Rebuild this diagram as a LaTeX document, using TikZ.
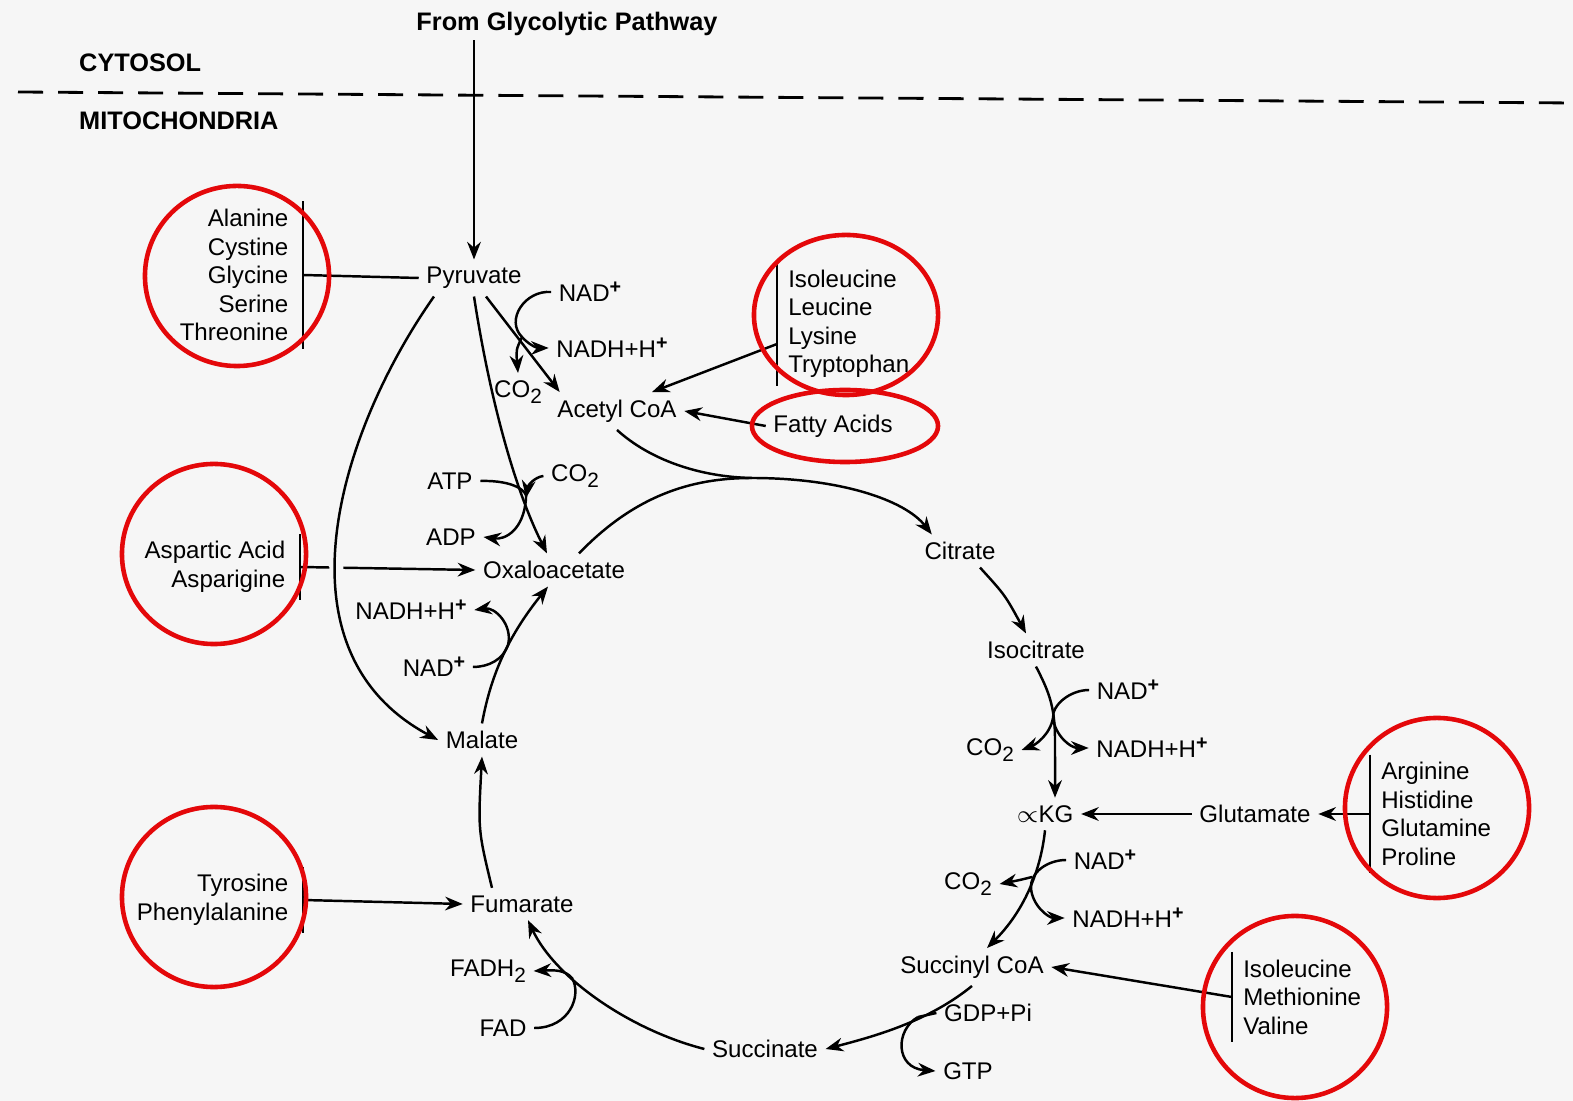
\documentclass[tikz,border=0pt]{standalone}
\usepackage{fontspec}
\setmainfont{Liberation Sans}
\usetikzlibrary{arrows.meta}
\definecolor{ringred}{RGB}{228,8,10}
\definecolor{paper}{RGB}{246,246,246}
\newcommand{\plussup}{\raisebox{0.6ex}{\fontsize{5.6}{6}\selectfont\bfseries +}}
\newcommand{\twosub}{\raisebox{-0.45ex}{\fontsize{5.9}{6}\selectfont 2}}

\begin{document}
\begin{tikzpicture}[
        x=0.01cm, y=-0.01cm,
        every node/.style={font=\fontsize{6.85}{8.1}\selectfont},
        met/.style={inner sep=2pt},
        zone/.style={font=\fontsize{7.2}{8}\selectfont\bfseries, inner sep=1pt},
        listR/.style={align=right, inner xsep=4pt, inner ysep=2pt},
        listL/.style={align=left, inner xsep=3pt, inner ysep=2pt},
        bar/.style={line width=0.7pt},
        link/.style={line width=0.7pt},
        arr/.style={-{Stealth[length=5pt, width=3.9pt]}, line width=0.7pt},
        ring/.style={draw=ringred, line width=1.3pt}
    ]
        \useasboundingbox (0,0) rectangle (1573,1101);
        \fill[paper] (0,0) rectangle (1573,1101);

        % compartments
        \node[zone] (glyc) at (567,24) {From Glycolytic Pathway};
        \node[zone, anchor=west] (cyto) at (75,63) {CYTOSOL};
        \node[zone, anchor=west] (mito) at (75,121) {MITOCHONDRIA};
        \draw[line width=0.8pt, dash pattern=on 0.25cm off 0.15cm] (18,92) -- (1573,103);

        % metabolites
        \node[met] (pyr) at (474,278) {Pyruvate};
        \node[met] (nad1) at (590,292) {NAD\plussup};
        \node[met] (nadh1) at (612,348) {NADH+H\plussup};
        \node[met] (co2a) at (518,392) {CO\twosub};
        \node[met] (acoa) at (617,411) {Acetyl CoA};
        \node[met] (fa) at (833,426) {Fatty Acids};
        \node[met] (atp) at (450,481) {ATP};
        \node[met] (co2b) at (575,476) {CO\twosub};
        \node[met] (adp) at (451,537) {ADP};
        \node[met] (oxa) at (554,570) {Oxaloacetate};
        \node[met] (nadh2) at (411,610) {NADH+H\plussup};
        \node[met] (nad2) at (434,667) {NAD\plussup};
        \node[met] (mal) at (482,740) {Malate};
        \node[met] (fum) at (522,904) {Fumarate};
        \node[met] (fadh) at (488,971) {FADH\twosub};
        \node[met] (fad) at (503,1028) {FAD};
        \node[met] (succ) at (765,1049) {Succinate};
        \node[met] (sucoa) at (972,967) {Succinyl CoA};
        \node[met] (gdp) at (988,1013) {GDP+Pi};
        \node[met] (gtp) at (968,1071) {GTP};
        \node[met] (akg) at (1045,814) {$\propto$KG};
        \node[met] (glu) at (1255,814) {Glutamate};
        \node[met] (nad4) at (1105,860) {NAD\plussup};
        \node[met] (co2d) at (968,884) {CO\twosub};
        \node[met] (nadh4) at (1128,918) {NADH+H\plussup};
        \node[met] (isoc) at (1036,650) {Isocitrate};
        \node[met] (nad3) at (1128,690) {NAD\plussup};
        \node[met] (co2c) at (990,750) {CO\twosub};
        \node[met] (nadh3) at (1152,748) {NADH+H\plussup};
        \node[met] (cit) at (960,551) {Citrate};

        % amino acid groups
        \node[listR, anchor=east] (ala) at (303,275) {Alanine\\Cystine\\Glycine\\Serine\\Threonine};
        \node[listL, anchor=west] (ileA) at (777,324) {Isoleucine\\Leucine\\Lysine\\Tryptophan};
        \node[listR, anchor=east] (asp) at (300,567) {Aspartic Acid\\Asparigine};
        \node[listR, anchor=east] (tyr) at (303,900) {Tyrosine\\Phenylalanine};
        \node[listL, anchor=west] (arg) at (1370,814) {Arginine\\Histidine\\Glutamine\\Proline};
        \node[listL, anchor=west] (ileB) at (1232,997) {Isoleucine\\Methionine\\Valine};
        \draw[bar] (ala.north east) -- (ala.south east);
        \draw[bar] (ileA.north west) -- (ileA.south west);
        \draw[bar] (asp.north east) -- (asp.south east);
        \draw[bar] (tyr.north east) -- (tyr.south east);
        \draw[bar] (arg.north west) -- (arg.south west);
        \draw[bar] (ileB.north west) -- (ileB.south west);

        % feeding lines
        \draw[arr] (glyc.south -| pyr.north) -- (pyr.north);
        \draw[link] (ala.east) -- (pyr.west);
        \draw[arr] ([yshift=-0.2cm]ileA.west) -- ([xshift=0.35cm]acoa.north);
        \draw[arr] (fa.west) -- (acoa.east);
        \draw[arr] (asp.east) -- (oxa.west);
        \draw[arr] (tyr.east) -- (fum.west);
        \draw[arr] (arg.west) -- (glu.east);
        \draw[arr] (glu.west) -- (akg.east);
        \draw[arr] (ileB.west) -- (sucoa.east);

        % pyruvate branches
        \draw[arr] ([xshift=0.12cm]pyr.south) -- ([xshift=0.1cm]acoa.north west);
        \coordinate (j1) at (522,337);
        \draw[arr] (nad1.west) .. controls (525,290) and (505,320) .. (j1)
            .. controls (530,346) and (538,348) .. (nadh1.west);
        \draw[arr] (j1) .. controls (516,350) .. (co2a.north);
        \draw[arr] (pyr.south) .. controls (490,400) and (515,490) .. ([xshift=-0.07cm]oxa.north);
        \coordinate (j2) at (526,498);
        \draw[arr] (atp.east) .. controls (515,480) and (528,492) .. (j2)
            .. controls (524,530) and (505,540) .. (adp.east);
        \draw[arr] (co2b.west) .. controls (535,477) and (528,485) .. (j2);
        \draw[arr, preaction={draw=paper, line width=4pt, -}] ([xshift=-0.4cm]pyr.south)
            .. controls (340,430) and (270,650) .. (mal.west);

        % cycle
        \coordinate (cj) at (752,478);
        \draw[link] (acoa.south) .. controls (650,460) and (700,477) .. (cj);
        \draw[arr] ([xshift=0.25cm]oxa.north) .. controls (640,490) and (700,478) .. (cj)
            .. controls (840,478) and (905,500) .. ([xshift=0.15cm]cit.north west);
        \draw[arr] ([xshift=0.2cm]cit.south) .. controls (1005,595) .. ([xshift=-0.1cm]isoc.north);

        \coordinate (j3) at (1053,718);
        \draw[arr] (isoc.south) .. controls (1048,690) and (1055,705) .. (1055,740)
            -- ([xshift=0.1cm]akg.north);
        \draw[arr] (nad3.west) .. controls (1070,690) and (1052,705) .. (j3)
            .. controls (1055,735) and (1070,748) .. (nadh3.west);
        \draw[arr] (j3) .. controls (1050,735) and (1035,745) .. (co2c.east);

        \coordinate (j4) at (1032,877);
        \draw[arr] (akg.south) .. controls (1042,860) and (1030,905) .. ([xshift=0.15cm]sucoa.north);
        \draw[arr] (nad4.west) .. controls (1048,860) and (1030,872) .. (1031,888)
            .. controls (1032,905) and (1048,918) .. (nadh4.west);
        \draw[arr] (j4) .. controls (1020,880) .. (co2d.east);

        \coordinate (j5) at (918,1017);
        \draw[arr] (sucoa.south) .. controls (930,1020) and (880,1035) .. (succ.east);
        \draw[link] (gdp.west) -- (j5);
        \draw[arr] (j5) .. controls (895,1030) and (895,1068) .. (gtp.west);

        \coordinate (j6) at (572,978);
        \draw[arr] (succ.west) .. controls (630,1030) and (555,978) .. ([xshift=0.06cm]fum.south);
        \draw[arr] (fad.east) .. controls (570,1028) and (582,995) .. (j6)
            .. controls (565,970) and (555,970) .. (fadh.east);

        \draw[arr] ([xshift=-0.3cm]fum.north) .. controls (478,830) .. (mal.south);

        \coordinate (j7) at (508,645);
        \draw[arr] (mal.north) .. controls (490,680) and (505,640) .. ([xshift=-0.06cm]oxa.south);
        \draw[arr] (nad2.east) .. controls (488,667) and (503,660) .. (j7)
            .. controls (513,625) and (495,607) .. (nadh2.east);

        % highlighted groups
        \draw[ring] (237,276) ellipse [x radius=0.92cm, y radius=0.90cm];
        \draw[ring] (846,315) ellipse [x radius=0.92cm, y radius=0.80cm];
        \draw[ring] (845,426) ellipse [x radius=0.93cm, y radius=0.36cm];
        \draw[ring] (214,554) ellipse [x radius=0.92cm, y radius=0.90cm];
        \draw[ring] (214,897) ellipse [x radius=0.92cm, y radius=0.90cm];
        \draw[ring] (1437,808) ellipse [x radius=0.92cm, y radius=0.90cm];
        \draw[ring] (1295,1007) ellipse [x radius=0.92cm, y radius=0.91cm];
    \end{tikzpicture}
\end{document}
